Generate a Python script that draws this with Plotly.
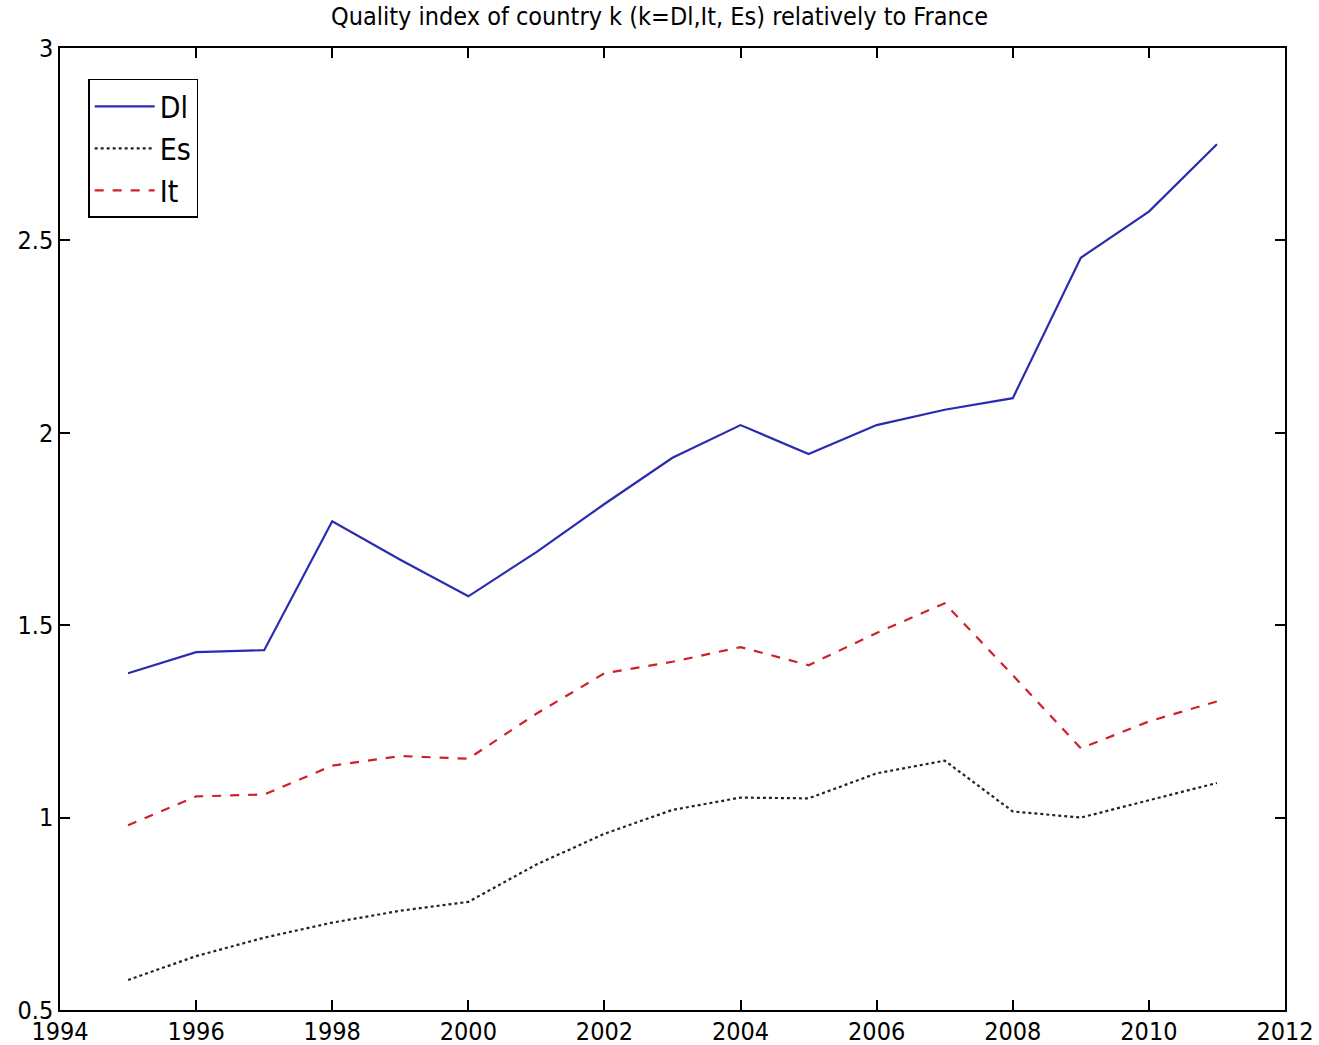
import plotly.graph_objects as go

# Years and quality index values
years = list(range(1995, 2012))
dl = [1.375, 1.43, 1.435, 1.77, 1.67, 1.575, 1.69, 1.815, 1.935, 2.02, 1.945,
      2.02, 2.06, 2.09, 2.455, 2.575, 2.75]
es = [0.578, 0.64, 0.688, 0.727, 0.758, 0.781, 0.878, 0.958, 1.02, 1.052, 1.05,
      1.115, 1.148, 1.016, 1.0, 1.044, 1.09]
it = [0.98, 1.055, 1.06, 1.135, 1.16, 1.153, 1.27, 1.375, 1.405, 1.443, 1.396,
      1.48, 1.557, 1.37, 1.18, 1.25, 1.302]

x_ticks = list(range(1994, 2013, 2))
y_ticks = [0.5, 1, 1.5, 2, 2.5, 3]

font = "DejaVu Sans Condensed, Liberation Sans Narrow, Liberation Sans, Arial"

fig = go.Figure()
fig.add_trace(go.Scatter(x=years, y=dl, name="Dl", mode="lines",
                         line=dict(color="#2b2bb0", width=2.2)))
fig.add_trace(go.Scatter(x=years, y=es, name="Es", mode="lines",
                         line=dict(color="#222222", width=2.2, dash="dot")))
fig.add_trace(go.Scatter(x=years, y=it, name="It", mode="lines",
                         line=dict(color="#d0202c", width=2.2, dash="dash")))

axis_style = dict(showgrid=False, zeroline=False, showline=True, mirror="allticks",
                  linecolor="black", linewidth=1.5, ticks="inside", ticklen=10,
                  tickcolor="black", tickwidth=1.5, ticklabeloverflow="allow",
                  tickfont=dict(family=font, size=25, color="black"))

fig.update_xaxes(range=[1994, 2012], tickvals=x_ticks, ticklabelstandoff=-2, **axis_style)
fig.update_yaxes(range=[0.5, 3], tickvals=y_ticks, ticktext=["0.5", "1", "1.5", "2", "2.5", "3"],
                 **axis_style)

fig.update_layout(
    title=dict(text="Quality index of country k (k=Dl,It, Es) relatively to France",
               x=0.5, xanchor="center", y=0.993, yanchor="top",
               font=dict(family=font, size=25, color="black")),
    width=1319, height=1045,
    margin=dict(l=60, r=34, t=48, b=35, autoexpand=False),
    paper_bgcolor="white", plot_bgcolor="white",
    showlegend=True,
    legend=dict(x=0.023, y=0.968, xanchor="left", yanchor="top",
                bordercolor="black", borderwidth=1.5, bgcolor="white",
                font=dict(family=font, size=30, color="black"),
                itemwidth=60),
)

# drop the default page margin so the figure fills the window exactly
fig.write_html("out.html", config={"displayModeBar": False},
               post_script="document.body.style.margin='0';")
